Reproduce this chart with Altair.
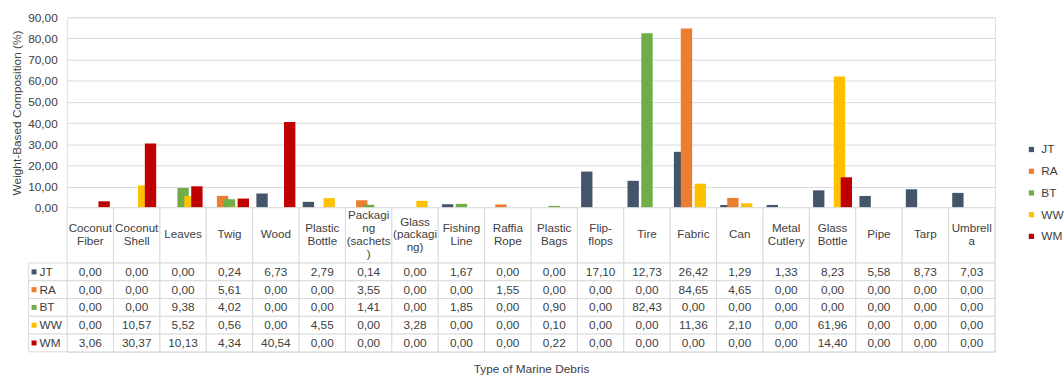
import altair as alt
import pandas as pd

# Debris types (table columns) and how each header wraps inside its cell
categories = ["Coconut Fiber", "Coconut Shell", "Leaves", "Twig", "Wood", "Plastic Bottle",
              "Packaging (sachets)", "Glass (packaging)", "Fishing Line", "Raffia Rope",
              "Plastic Bags", "Flip-flops", "Tire", "Fabric", "Can", "Metal Cutlery",
              "Glass Bottle", "Pipe", "Tarp", "Umbrella"]
header_labels = ["Coconut\nFiber", "Coconut\nShell", "Leaves", "Twig", "Wood", "Plastic\nBottle",
                 "Packagi\nng\n(sachets\n)", "Glass\n(packagi\nng)", "Fishing\nLine", "Raffia\nRope",
                 "Plastic\nBags", "Flip-\nflops", "Tire", "Fabric", "Can", "Metal\nCutlery",
                 "Glass\nBottle", "Pipe", "Tarp", "Umbrell\na"]

# Sites
series = ["JT", "RA", "BT", "WW", "WM"]
colors = ["#44546A", "#ED7D31", "#70AD47", "#FFC000", "#C00000"]

# Weight-based composition (%) per site
jt = [0.00, 0.00, 0.00, 0.24, 6.73, 2.79, 0.14, 0.00, 1.67, 0.00,
      0.00, 17.10, 12.73, 26.42, 1.29, 1.33, 8.23, 5.58, 8.73, 7.03]
ra = [0.00, 0.00, 0.00, 5.61, 0.00, 0.00, 3.55, 0.00, 0.00, 1.55,
      0.00, 0.00, 0.00, 84.65, 4.65, 0.00, 0.00, 0.00, 0.00, 0.00]
bt = [0.00, 0.00, 9.38, 4.02, 0.00, 0.00, 1.41, 0.00, 1.85, 0.00,
      0.90, 0.00, 82.43, 0.00, 0.00, 0.00, 0.00, 0.00, 0.00, 0.00]
ww = [0.00, 10.57, 5.52, 0.56, 0.00, 4.55, 0.00, 3.28, 0.00, 0.00,
      0.10, 0.00, 0.00, 11.36, 2.10, 0.00, 61.96, 0.00, 0.00, 0.00]
wm = [3.06, 30.37, 10.13, 4.34, 40.54, 0.00, 0.00, 0.00, 0.00, 0.00,
      0.22, 0.00, 0.00, 0.00, 0.00, 0.00, 14.40, 0.00, 0.00, 0.00]

values_by_site = dict(zip(series, [jt, ra, bt, ww, wm]))
rows = []
for s in series:
    for c, v in zip(categories, values_by_site[s]):
        rows.append({"series": s, "category": c, "value": v})
df = pd.DataFrame(rows)
header_df = pd.DataFrame({"category": categories, "label": header_labels})
site_df = pd.DataFrame({"series": series})

FONT = "Liberation Sans"
TEXT = "#404040"
GRID = "#d9d9d9"
COL_W = 47
HDR_H = 56
LINE_H = 13

x_scale = alt.Scale(domain=categories, paddingInner=0, paddingOuter=0)
color_scale = alt.Scale(domain=series, range=colors)
comma_fmt = "replace(format(datum.value, '.2f'), '.', ',')"

# --- clustered columns ---
bars = alt.Chart(df).mark_bar(width=11.5).encode(
    x=alt.X("category:N", scale=x_scale, sort=categories, axis=None),
    xOffset=alt.XOffset("series:N", sort=series,
                        scale=alt.Scale(domain=series, paddingInner=0, paddingOuter=0.857)),
    y=alt.Y("value:Q", scale=alt.Scale(domain=[0, 90]),
            axis=alt.Axis(values=list(range(0, 91, 10)), labelExpr=comma_fmt,
                          title="Weight-Based Composition (%)", grid=True, gridColor=GRID,
                          domain=False, ticks=False, labelPadding=10, labelFontSize=12,
                          labelColor=TEXT, titleFontSize=12, titleFontWeight="normal",
                          titleColor=TEXT, titlePadding=4, labelFont=FONT, titleFont=FONT)),
    color=alt.Color("series:N", scale=color_scale, sort=series,
                    legend=alt.Legend(title=None, orient="none", legendX=971, legendY=128,
                                      symbolType="square", symbolSize=28, labelFontSize=12,
                                      labelColor=TEXT, labelFont=FONT, rowPadding=10,
                                      labelOffset=4, symbolStrokeWidth=0)),
).properties(width=COL_W * len(categories), height=193)

# --- table header row (multi-line labels centred vertically in their cell) ---
hdr_base = alt.Chart(header_df).transform_calculate(
    ty=f"{HDR_H / 2 - 1} - (length(split(datum.label, '\\n')) - 1) * {LINE_H / 2}",
).encode(x=alt.X("category:N", scale=x_scale, sort=categories, axis=None))
hdr_cells = hdr_base.mark_rect(fill="white", stroke=GRID, strokeWidth=1).encode(
    y=alt.value(0), y2=alt.value(HDR_H))
hdr_text = hdr_base.mark_text(lineBreak="\n", fontSize=11.8, font=FONT, color=TEXT,
                              baseline="middle", lineHeight=LINE_H).encode(
    y=alt.Y("ty:Q", axis=None, scale=alt.Scale(domain=[0, HDR_H], range=[0, HDR_H])),
    text="label:N")
header = alt.layer(hdr_cells, hdr_text).properties(width=COL_W * len(categories), height=HDR_H)

# --- table body ---
body_base = alt.Chart(df).transform_calculate(
    txt="replace(format(datum.value, '.2f'), '.', ',')"
).encode(
    x=alt.X("category:N", scale=x_scale, sort=categories,
            axis=alt.Axis(title="Type of Marine Debris", labels=False, ticks=False, domain=False,
                          titleFontSize=12, titleFontWeight="normal", titleColor=TEXT,
                          titleFont=FONT, titlePadding=12)),
    y=alt.Y("series:N", sort=series, axis=None,
            scale=alt.Scale(domain=series, paddingInner=0, paddingOuter=0)),
)
body_cells = body_base.mark_rect(fill="white", stroke=GRID, strokeWidth=1)
body_text = body_base.mark_text(fontSize=12, font=FONT, color=TEXT).encode(text="txt:N")

site_base = alt.Chart(site_df).encode(
    y=alt.Y("series:N", sort=series, axis=None,
            scale=alt.Scale(domain=series, paddingInner=0, paddingOuter=0)))
site_cells = site_base.mark_rect(fill="white", stroke=GRID, strokeWidth=1).encode(
    x=alt.value(-39), x2=alt.value(0))
site_keys = site_base.mark_square(size=26, opacity=1).encode(
    x=alt.value(-33.5), color=alt.Color("series:N", scale=color_scale, sort=series, legend=None))
site_text = site_base.mark_text(align="left", fontSize=12, font=FONT, color=TEXT).encode(
    x=alt.value(-28), text="series:N")

body = alt.layer(body_cells, body_text, site_cells, site_keys, site_text).properties(
    width=COL_W * len(categories), height=90)

chart = alt.vconcat(bars, header, body, spacing=0, bounds="flush").properties(
    padding={"left": 10, "top": 8, "right": 0, "bottom": 0}
).configure_view(stroke=None).configure(font=FONT, background="white")

chart.save("out.html", embed_options={"renderer": "svg", "actions": False})
